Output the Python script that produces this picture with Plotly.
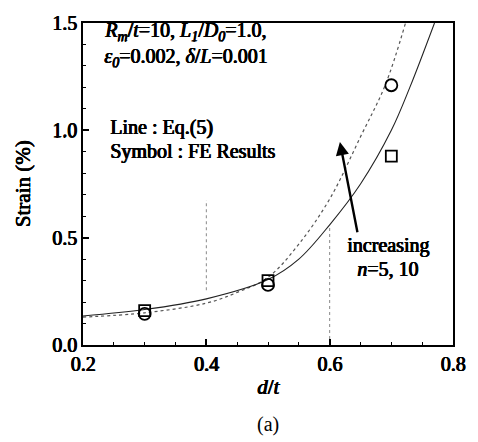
import plotly.graph_objects as go

# FE results (symbols)
d_t_fe = [0.3, 0.5, 0.7]
strain_fe_n5 = [0.16, 0.30, 0.88]
strain_fe_n10 = [0.145, 0.28, 1.21]

# Eq.(5) curves (lines)
d_t_eq_n5 = [0.20, 0.30, 0.40, 0.50, 0.55, 0.60, 0.65, 0.70, 0.73, 0.77]
strain_eq_n5 = [0.135, 0.165, 0.215, 0.305, 0.40, 0.56, 0.75, 1.00, 1.20, 1.50]
d_t_eq_n10 = [0.20, 0.30, 0.40, 0.45, 0.50, 0.55, 0.60, 0.65, 0.69, 0.723]
strain_eq_n10 = [0.13, 0.15, 0.195, 0.245, 0.315, 0.47, 0.68, 0.97, 1.21, 1.50]

# faint dotted guide segments (x, y_from, y_to)
guide_x = [0.4, 0.6]
guide_y0 = [0.255, 0.0]
guide_y1 = [0.675, 0.55]

x_ticks = [0.2, 0.4, 0.6, 0.8]
y_ticks = [0.0, 0.5, 1.0, 1.5]

SERIF = "Liberation Serif"
# heavy strokes drawn by offsetting the glyphs slightly
HEAVY = "0.8px 0 0 #000, 0.4px 0 0 #000, 0 0.4px 0 #000"


def heavy_font(size):
    return dict(family=SERIF, size=size, color="black", shadow=HEAVY)


fig = go.Figure()

fig.add_trace(go.Scatter(
    x=d_t_eq_n10, y=strain_eq_n10, mode="lines", line_shape="spline",
    line=dict(color="#555555", width=1.2, dash="dot"), showlegend=False))
fig.add_trace(go.Scatter(
    x=d_t_eq_n5, y=strain_eq_n5, mode="lines", line_shape="spline",
    line=dict(color="#222222", width=1.1), showlegend=False))
fig.add_trace(go.Scatter(
    x=d_t_fe, y=strain_fe_n5, mode="markers",
    marker=dict(symbol="square-open", size=11, color="black", line=dict(width=1.8)),
    showlegend=False))
fig.add_trace(go.Scatter(
    x=d_t_fe, y=strain_fe_n10, mode="markers",
    marker=dict(symbol="circle-open", size=12, color="black", line=dict(width=1.8)),
    showlegend=False))

for gx, g0, g1 in zip(guide_x, guide_y0, guide_y1):
    fig.add_shape(type="line", x0=gx, x1=gx, y0=g0, y1=g1, xref="x", yref="y",
                  line=dict(color="#888888", width=1, dash="dot"), layer="below")

txt_font = heavy_font(20)


def note(x, y, text, anchor="left", dx=0, dy=0):
    fig.add_annotation(x=x, y=y, xref="x", yref="y", xanchor=anchor, yanchor="middle",
                       align=anchor, xshift=dx, yshift=dy,
                       showarrow=False, text=text, font=txt_font)


note(0.216, 1.423,
     "<i>R</i><sub><i>m</i></sub>/<i>t</i>=10, <i>L</i><sub><i>1</i></sub>/<i>D</i><sub><i>0</i></sub>=1.0,",
     dx=9, dy=8)
note(0.216, 1.30, "<i>ε</i><sub><i>0</i></sub>=0.002, <i>δ</i>/<i>L</i>=0.001", dx=9, dy=8)
note(0.240, 0.99, "Line : Eq.(5)", dy=5)
note(0.240, 0.878, "Symbol : FE Results", dy=5)
note(0.695, 0.45, "increasing", anchor="center", dy=3)
note(0.694, 0.347, "<i>n</i>=5, 10", anchor="center", dy=2)

# arrow pointing toward increasing n
fig.add_annotation(
    x=0.6166, y=0.946, ax=0.6455, ay=0.518, xref="x", yref="y", axref="x", ayref="y",
    text="", showarrow=True, arrowhead=2, arrowsize=1.1, arrowwidth=2.4, arrowcolor="black")

# panel label
fig.add_annotation(
    x=0.5, y=-0.248, xref="paper", yref="paper", xanchor="center", yanchor="middle",
    showarrow=False, text="(a)", font=dict(family=SERIF, size=20, color="black"))

axis_common = dict(
    showline=True, linecolor="black", linewidth=2, mirror=True,
    ticks="inside", ticklen=6, tickwidth=1.5, tickcolor="black",
    showgrid=False, zeroline=False,
    tickfont=heavy_font(20),
)

fig.update_xaxes(
    range=[0.2, 0.8], tickvals=x_ticks, tickformat=".1f",
    minor=dict(dtick=0.05, tick0=0.2, ticks="inside", ticklen=3, tickcolor="black", tickwidth=1),
    title=dict(text="<i>d</i>/<i>t</i>", standoff=5, font=heavy_font(21)),
    **axis_common)
fig.update_yaxes(
    range=[0.0, 1.5], tickvals=y_ticks, tickformat=".1f",
    minor=dict(dtick=0.1, tick0=0.0, ticks="inside", ticklen=3, tickcolor="black", tickwidth=1),
    title=dict(text="Strain (%)", standoff=16, font=heavy_font(21)),
    **axis_common)

fig.update_layout(
    width=478, height=442,
    margin=dict(l=83, r=22, t=12, b=97),
    paper_bgcolor="white", plot_bgcolor="white",
    showlegend=False,
)

fig.write_html("out.html")
